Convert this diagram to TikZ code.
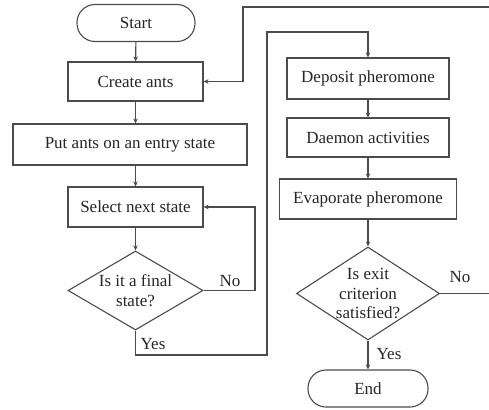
\documentclass[tikz,border=0pt]{standalone}
\usepackage{fontspec}
\setmainfont{Liberation Serif}
\usetikzlibrary{shapes.geometric,arrows.meta}
\begin{document}
\begin{tikzpicture}[x=1pt,y=-1pt,
  every node/.style={font=\fontsize{17}{19.5}\selectfont, text=black!85},
  box/.style={draw=black!70, line width=1.1pt, rectangle, inner sep=0pt, align=center},
  term/.style={box, rounded corners=18pt},
  dec/.style={draw=black!70, line width=1.1pt, diamond, inner xsep=-12pt, inner ysep=-8pt, align=center},
  conn/.style={draw=black!70, line width=1.1pt},
  arr/.style={conn, -{Stealth[length=5pt,width=4.5pt]}},
  lbl/.style={inner sep=1pt}]
\clip (0,0) rectangle (489,409);
\fill[white] (0,0) rectangle (489,409);
\node[term, minimum width=118pt, minimum height=37pt] (start) at (136,23) {Start};
\node[box, minimum width=135pt, minimum height=39pt] (create) at (135.5,81.5) {Create ants};
\node[box, minimum width=234pt, minimum height=41pt] (put) at (130,144.5) {Put ants on an entry state};
\node[box, minimum width=135pt, minimum height=40pt] (select) at (135.5,207) {Select next state};
\node[dec, aspect=1.71, minimum width=135pt, minimum height=79pt] (d1) at (135.5,290.5) {Is it a final\\state?};
\node[box, minimum width=162pt, minimum height=41pt] (deposit) at (368,78.5) {Deposit pheromone};
\node[box, minimum width=162pt, minimum height=39pt] (daemon) at (368,137.5) {Daemon activities};
\node[box, minimum width=177pt, minimum height=40pt] (evap) at (368,199) {Evaporate pheromone};
\node[dec, aspect=1.54, minimum width=143pt, minimum height=93pt] (d2) at (368,293.5) {Is exit\\criterion\\satisfied?};
\node[term, minimum width=120pt, minimum height=37pt] (end) at (368,388.5) {End};

\coordinate (n1) at (255,290.5);
\coordinate (y1) at (135.5,355);
\coordinate (y2) at (267,32);
\coordinate (n2a) at (495,293.5);
\coordinate (n2b) at (495,7);
\coordinate (n2c) at (243,7);

\draw[arr] (start) -- (create);
\draw[arr] (create) -- (create.south |- put.north);
\draw[arr] (select.north |- put.south) -- (select);
\draw[arr] (select) -- (d1);
\draw[arr] (d1.east) -- (n1) |- (select.east);
\draw[arr] (d1.south) -- (y1) -| (y2) -| (deposit.north);
\draw[arr] (deposit) -- (daemon);
\draw[arr] (daemon) -- (evap);
\draw[arr] (evap) -- (d2);
\draw[arr] (d2) -- (end);
\draw[arr] (d2.east) -- (n2a) -- (n2b) -- (n2c) |- (create.east);

\node[lbl] (no1) at (230,281) {No};
\node[lbl] (yes1) at (153,344) {Yes};
\node[lbl] (no2) at (460,277) {No};
\node[lbl] (yes2) at (389,354) {Yes};
\end{tikzpicture}
\end{document}
